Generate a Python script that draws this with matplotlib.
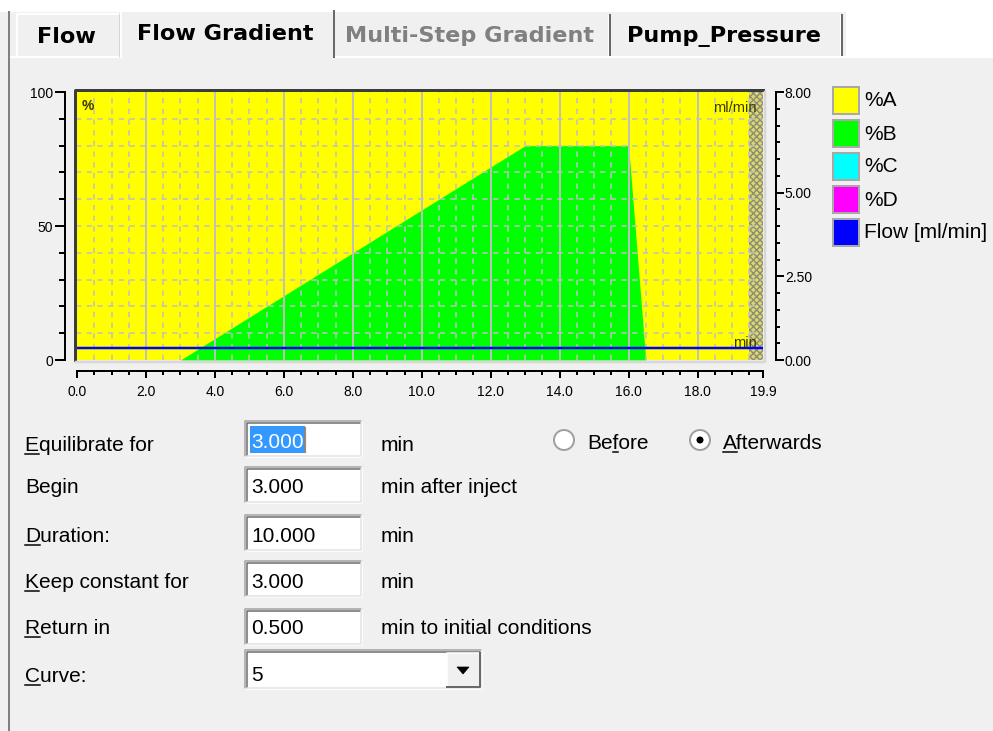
import numpy as np
import matplotlib
matplotlib.use('Agg')
import matplotlib.pyplot as plt
from matplotlib.patches import Rectangle, Circle, Polygon
from matplotlib.lines import Line2D
from matplotlib.transforms import Affine2D
from matplotlib.ticker import MultipleLocator

plt.rcParams['font.family'] = ['Liberation Sans', 'DejaVu Sans']
plt.rcParams['hatch.linewidth'] = 1.0

# gradient program (%B), flow and post-run window
time_min = [0.0, 3.0, 13.0, 16.0, 16.5, 19.9]
pct_b = [0, 0, 80, 80, 0, 0]
flow_time = [0.0, 19.9]
flow_ml = [0.35, 0.35]
post_run = [19.5, 19.9]

x_ticks = [0, 2, 4, 6, 8, 10, 12, 14, 16, 18, 19.9]
x_labels = ['0.0', '2.0', '4.0', '6.0', '8.0', '10.0', '12.0', '14.0', '16.0', '18.0', '19.9']
pct_ticks = [0, 50, 100]
pct_labels = ['0', '50', '100']
flow_ticks = [0, 2.5, 5, 8]
flow_labels = ['0.00', '2.50', '5.00', '8.00']

legend_labels = ['%A', '%B', '%C', '%D', 'Flow [ml/min]']
legend_colors = ['#ffff00', '#00ff00', '#00ffff', '#ff00ff', '#0000ff']

tabs = ['Flow', 'Flow Gradient', 'Multi-Step Gradient', 'Pump_Pressure']

form_labels = ['Equilibrate for', 'Begin', 'Duration:', 'Keep constant for', 'Return in', 'Curve:']
form_values = ['3.000', '3.000', '10.000', '3.000', '0.500', '5']
form_units = ['min', 'min after inject', 'min', 'min', 'min to initial conditions', '']
form_keys = [0, None, 0, 0, 0, 0]   # underlined letter

W, H = 993, 731
fig = plt.figure(figsize=(W / 100, H / 100), dpi=100, facecolor='#f0f0f0')
# pixel coords, origin top-left
T = Affine2D().scale(1 / W, -1 / H).translate(0, 1) + fig.transFigure


def px(n):
    return n * 0.72


def rect(x0, y0, x1, y1, **kw):
    fig.add_artist(Rectangle((x0, y0), x1 - x0, y1 - y0, transform=T, **kw))


def line(xs, ys, **kw):
    fig.add_artist(Line2D(xs, ys, transform=T, **kw))


def txt(x, y, s, **kw):
    return fig.text(x, y, s, transform=T, **kw)


renderer = fig.canvas.get_renderer()


def underlined(x, y, s, idx, **kw):
    t = txt(x, y, s, va='baseline', **kw)
    if idx is None:
        return t
    w0 = 0
    if idx > 0:
        a = txt(x, y, s[:idx], va='baseline', **kw)
        w0 = a.get_window_extent(renderer).width
        a.remove()
    b = txt(x, y, s[:idx + 1], va='baseline', **kw)
    w1 = b.get_window_extent(renderer).width
    b.remove()
    line([x + w0, x + w1], [y + 3, y + 3], color='black', lw=px(1.5))
    return t


def sunken(x0, y0, x1, y1):
    rect(x0, y0, x1, y1, facecolor='white', edgecolor='none')
    line([x0, x0, x1], [y1, y0, y0], color='#a0a0a0', lw=px(1.5))
    line([x0 + 1.5, x0 + 1.5, x1 - 1.5], [y1 - 1.5, y0 + 1.5, y0 + 1.5], color='#696969', lw=px(1.5))
    line([x0, x1, x1], [y1, y1, y0], color='#ffffff', lw=px(1.5))
    line([x0 + 1.5, x1 - 1.5, x1 - 1.5], [y1 - 1.5, y1 - 1.5, y0 + 1.5], color='#e3e3e3', lw=px(1.5))


# ---------------- tab strip ----------------
rect(0, 0, W, 12, facecolor='white', edgecolor='none')
rect(846, 0, W, 56, facecolor='white', edgecolor='none')
line([9, 120], [57, 57], color='white', lw=px(2))
line([334, W], [57, 57], color='white', lw=px(2))
# Flow tab
line([17, 17, 120], [57, 14, 14], color='white', lw=px(2))
line([120, 120], [14, 57], color='#d0d0d0', lw=px(1.5))
# selected tab
line([121, 121, 333], [57, 11, 11], color='white', lw=px(2))
line([334, 334], [11, 57], color='#696969', lw=px(2))
for sx in [610, 842]:
    line([sx, sx], [15, 55], color='#696969', lw=px(2))
    line([sx - 2, sx - 2], [15, 55], color='white', lw=px(1))
tab_x = [37, 137, 345, 627]
tab_y = [43, 40, 42, 42]
tab_c = ['black', 'black', '#808080', 'black']
for s, x, y, c in zip(tabs, tab_x, tab_y, tab_c):
    txt(x, y, s, va='baseline', ha='left', fontsize=16.1, fontweight='bold',
        family=['DejaVu Sans'], color=c)
line([9, 9], [12, H], color='#808080', lw=px(2))

# ---------------- chart ----------------
L, R, TOP, BOT = 76, 763, 92, 360
ax = fig.add_axes([L / W, 1 - BOT / H, (R - L) / W, (BOT - TOP) / H])
ax.set_facecolor('#ffff00')
ax.set_xlim(-0.03, 19.9)
ax.set_ylim(0, 100)

ax.fill_between(time_min, 0, pct_b, color='#00ff00', lw=0, zorder=1)
ax.axvspan(post_run[0], post_run[1], facecolor='#dcd870', edgecolor='#8c8c78',
           hatch='xxxxx', lw=0, zorder=1.2)

grid_c = '#c0c0c0'
minor_x = [v for v in np.arange(0.5, 19.6, 0.5) if v % 2 != 0]
ax.vlines(minor_x, 0, 100, colors=grid_c, linestyles=(0, (3.5, 3.5)), lw=1.1, zorder=1.5)
ax.vlines(x_ticks[1:-1], 0, 100, colors=grid_c, lw=1.4, zorder=1.5)
ax.hlines(np.arange(10, 100, 10), -0.03, 19.9, colors=grid_c, linestyles=(0, (3.5, 3.5)),
          lw=1.1, zorder=1.5)

for side in ['top', 'right']:
    ax.spines[side].set_visible(False)
ax.spines['left'].set_position(('outward', 7.9))
ax.spines['left'].set_bounds(0, 100)
ax.spines['bottom'].set_position(('outward', 7.9))
ax.spines['bottom'].set_bounds(0, 19.9)
for side in ['left', 'bottom']:
    ax.spines[side].set_linewidth(px(2))

ax.set_xticks(x_ticks)
ax.set_xticklabels(x_labels)
ax.xaxis.set_minor_locator(MultipleLocator(0.5))
ax.set_yticks(pct_ticks)
ax.set_yticklabels(pct_labels)
ax.yaxis.set_minor_locator(MultipleLocator(10))
ax.tick_params(axis='x', which='major', length=5, width=px(2), pad=5, labelsize=10)
ax.tick_params(axis='x', which='minor', length=2.8, width=px(2))
ax.tick_params(axis='y', which='major', length=7, width=px(2), pad=1.5, labelsize=10)
ax.tick_params(axis='y', which='minor', length=4.3, width=px(2))

ax2 = ax.twinx()
ax2.set_ylim(0, 8)
for side in ['top', 'left', 'bottom']:
    ax2.spines[side].set_visible(False)
ax2.spines['right'].set_position(('outward', 9.4))
ax2.spines['right'].set_bounds(0, 8)
ax2.spines['right'].set_linewidth(px(2))
ax2.set_yticks(flow_ticks)
ax2.set_yticklabels(flow_labels)
ax2.yaxis.set_minor_locator(MultipleLocator(0.5))
ax2.tick_params(axis='y', which='major', length=5.8, width=px(2), pad=0.5, labelsize=10)
ax2.tick_params(axis='y', which='minor', length=3, width=px(2))
ax2.plot(flow_time, flow_ml, color='#0000ff', lw=px(2.5), solid_capstyle='butt')

# sunken frame of plot area
line([74.5, 74.5, R], [BOT, 89.5, 89.5], color='#3c3c3c', lw=px(3))
line([L, R + 1.5, R + 1.5], [BOT + 1.5, BOT + 1.5, TOP], color='#d8d8d8', lw=px(2.5))

txt(82, 110, '%', fontsize=10, color='#3a3a00', va='baseline', fontweight='bold')
txt(757, 112, 'ml/min', fontsize=10.5, color='#3a3a00', va='baseline', ha='right')
txt(757, 347, 'min', fontsize=10.5, color='#3a3a00', va='baseline', ha='right')

# legend
for i, (lab, col) in enumerate(zip(legend_labels, legend_colors)):
    y0 = 87 + 33 * i
    rect(833, y0, 859, y0 + 27, facecolor=col, edgecolor='#a8a8a8', lw=px(2))
    txt(864, y0 + 14, lab, fontsize=15, va='center', ha='left')

# ---------------- form ----------------
baselines = [451, 493, 542, 588, 634, 682]
box_tops = [421, 467, 515, 561, 609, 650]
for i, (lab, val, unit, k) in enumerate(zip(form_labels, form_values, form_units, form_keys)):
    yb = baselines[i]
    underlined(25, yb, lab, k, fontsize=15)
    if i < 5:
        sunken(245, box_tops[i], 362, box_tops[i] + 36)
        if i == 0:
            rect(250, 426, 305, 453, facecolor='#3399ff', edgecolor='none')
            line([305, 305], [427, 452], color='#e07a20', lw=px(1.2))
            txt(251, yb - 3, val, fontsize=15, va='baseline', color='white')
        else:
            txt(251, yb, val, fontsize=15, va='baseline')
        txt(381, yb, unit, fontsize=15, va='baseline')
    else:
        sunken(245, box_tops[i], 482, box_tops[i] + 39)
        txt(251, yb - 1, val, fontsize=15, va='baseline')
        # drop-down button
        rect(447, 653, 480, 687, facecolor='#f0f0f0', edgecolor='none')
        line([447, 447, 480], [687, 653, 653], color='white', lw=px(1.5))
        line([447, 480, 480], [687, 687, 653], color='#696969', lw=px(2))
        fig.add_artist(Polygon([(457, 667), (469, 667), (463, 674)], closed=True,
                               transform=T, facecolor='black', edgecolor='black', lw=0.5))

# radio buttons
for cx, lab, k, on in [(564, 'Before', 2, False), (700, 'Afterwards', 0, True)]:
    fig.add_artist(Circle((cx, 440), 10, transform=T, facecolor='white',
                          edgecolor='#a0a0a0', lw=px(2)))
    if on:
        fig.add_artist(Circle((cx, 440), 3.5, transform=T, facecolor='black', edgecolor='none'))
    underlined(cx + 23, 449, lab, k, fontsize=15)

fig.savefig('out.png', dpi=100, facecolor=fig.get_facecolor())
